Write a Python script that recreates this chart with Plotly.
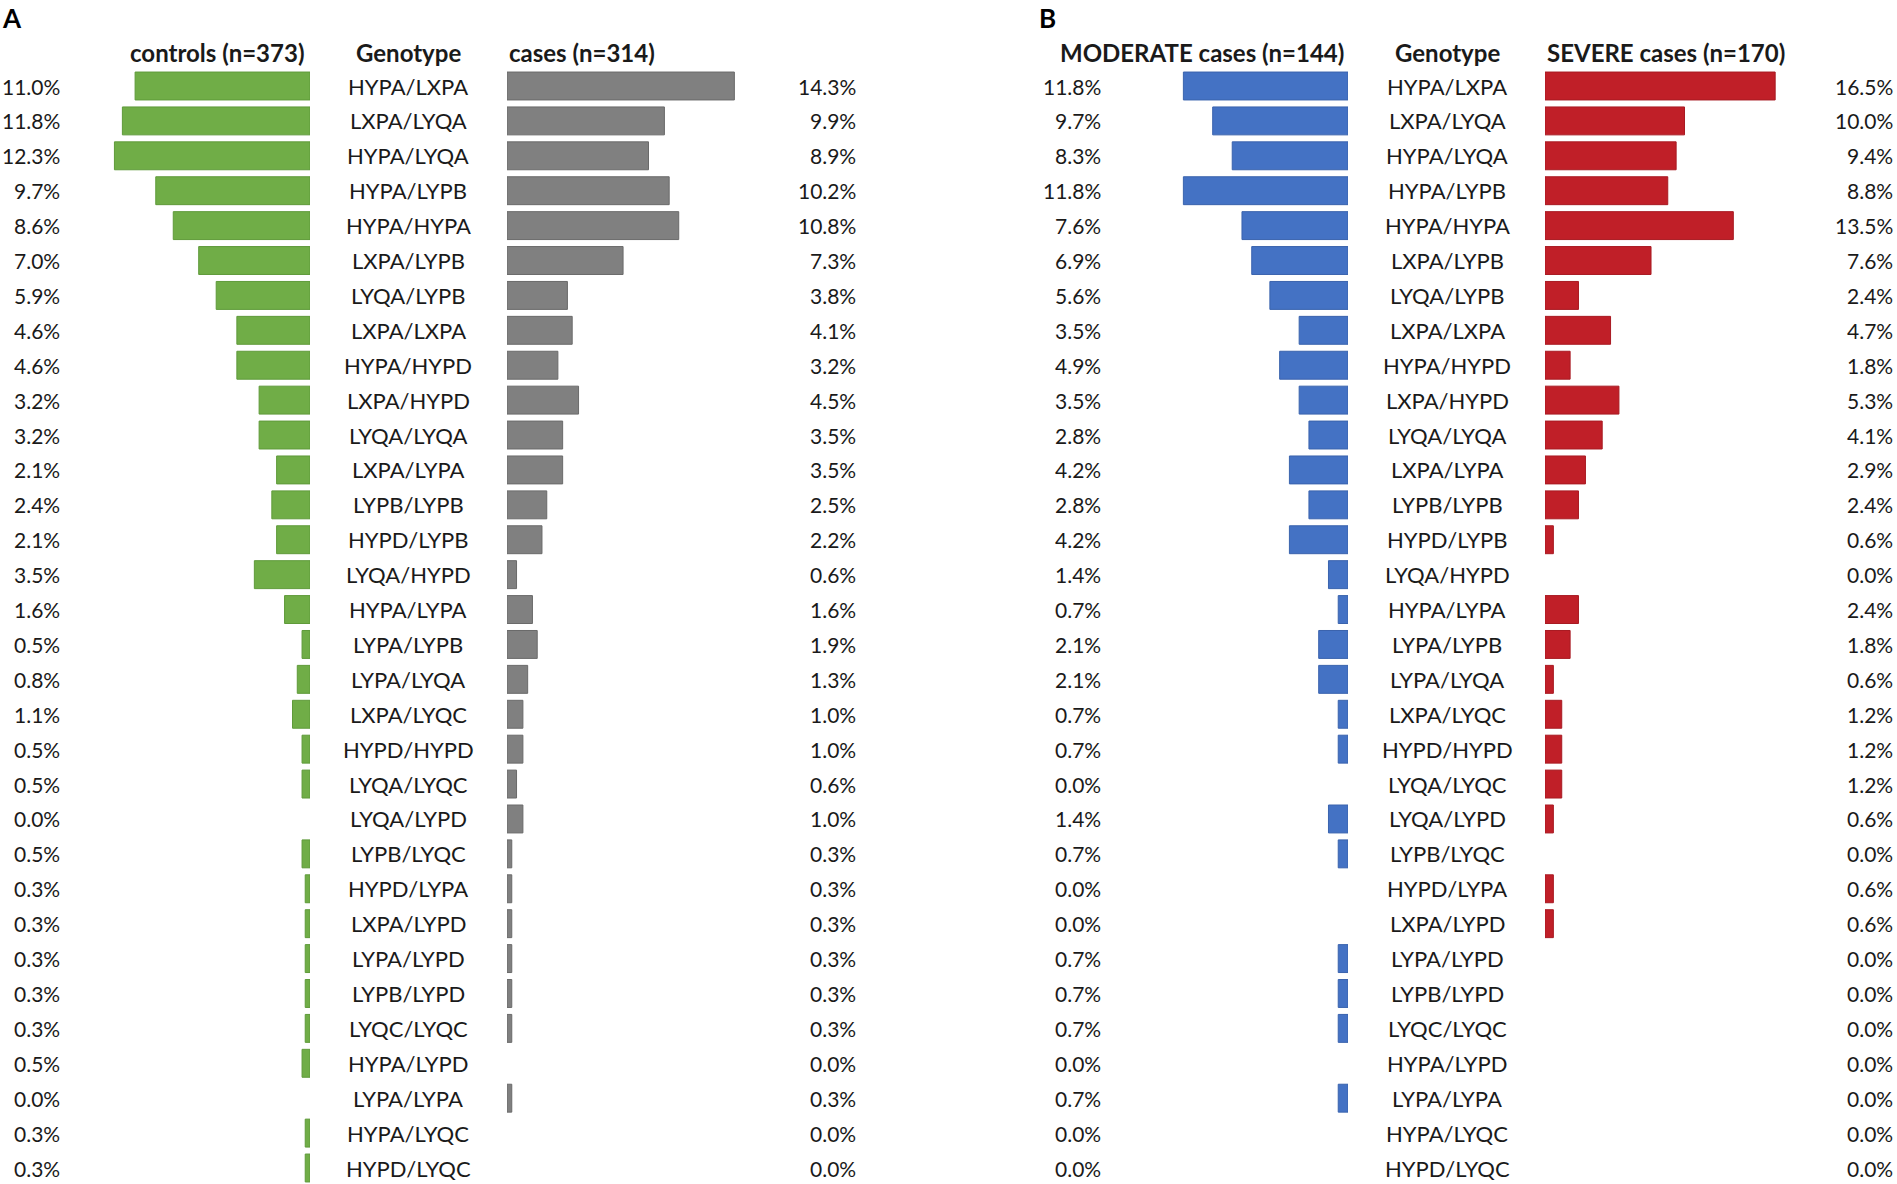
import plotly.graph_objects as go

genotypes = ["HYPA/LXPA", "LXPA/LYQA", "HYPA/LYQA", "HYPA/LYPB", "HYPA/HYPA", "LXPA/LYPB",
             "LYQA/LYPB", "LXPA/LXPA", "HYPA/HYPD", "LXPA/HYPD", "LYQA/LYQA", "LXPA/LYPA",
             "LYPB/LYPB", "HYPD/LYPB", "LYQA/HYPD", "HYPA/LYPA", "LYPA/LYPB", "LYPA/LYQA",
             "LXPA/LYQC", "HYPD/HYPD", "LYQA/LYQC", "LYQA/LYPD", "LYPB/LYQC", "HYPD/LYPA",
             "LXPA/LYPD", "LYPA/LYPD", "LYPB/LYPD", "LYQC/LYQC", "HYPA/LYPD", "LYPA/LYPA",
             "HYPA/LYQC", "HYPD/LYQC"]

controls = [11.0, 11.8, 12.3, 9.7, 8.6, 7.0, 5.9, 4.6, 4.6, 3.2, 3.2, 2.1, 2.4, 2.1, 3.5, 1.6,
            0.5, 0.8, 1.1, 0.5, 0.5, 0.0, 0.5, 0.3, 0.3, 0.3, 0.3, 0.3, 0.5, 0.0, 0.3, 0.3]
cases = [14.3, 9.9, 8.9, 10.2, 10.8, 7.3, 3.8, 4.1, 3.2, 4.5, 3.5, 3.5, 2.5, 2.2, 0.6, 1.6,
         1.9, 1.3, 1.0, 1.0, 0.6, 1.0, 0.3, 0.3, 0.3, 0.3, 0.3, 0.3, 0.0, 0.3, 0.0, 0.0]
moderate = [11.8, 9.7, 8.3, 11.8, 7.6, 6.9, 5.6, 3.5, 4.9, 3.5, 2.8, 4.2, 2.8, 4.2, 1.4, 0.7,
            2.1, 2.1, 0.7, 0.7, 0.0, 1.4, 0.7, 0.0, 0.0, 0.7, 0.7, 0.7, 0.0, 0.7, 0.0, 0.0]
severe = [16.5, 10.0, 9.4, 8.8, 13.5, 7.6, 2.4, 4.7, 1.8, 5.3, 4.1, 2.9, 2.4, 0.6, 0.0, 2.4,
          1.8, 0.6, 1.2, 1.2, 1.2, 0.6, 0.0, 0.6, 0.6, 0.0, 0.0, 0.0, 0.0, 0.0, 0.0, 0.0]

headers_a = ["controls (n=373)", "Genotype", "cases (n=314)"]
headers_b = ["MODERATE cases (n=144)", "Genotype", "SEVERE cases (n=170)"]

W, H = 1897, 1184
FONT = "Lato"
FS_PCT = 21
FS_GEN = 22
FS_HDR = 24
TXT = "#1a1a1a"

def px(x):
    return x / W

# pixel geometry
row0, rowN = 86, 1168
step = (rowN - row0) / (len(genotypes) - 1)
y_top = -row0 / step
y_bot = (len(genotypes) - 1) + (H - rowN) / step

scaleA = 15.9
scaleB = 13.95
gA_right, cA_left = 310, 507
bB_right, rB_left = 1348, 1545
xa1 = (0, gA_right)
xa2 = (cA_left, 880)
xa3 = (900, bB_right)
xa4 = (rB_left, W)

fig = go.Figure()

def bar(vals, color, line, xaxis):
    fig.add_trace(go.Bar(
        x=vals, y=genotypes, orientation="h", xaxis=xaxis, yaxis="y",
        marker=dict(color=color,
                    line=dict(color=line, width=[1 if v > 0 else 0 for v in vals])),
        showlegend=False, hoverinfo="x+y"))

bar(controls, "#70AD47", "#5f9a3a", "x")
bar(cases, "#808080", "#6a6a6a", "x2")
bar(moderate, "#4472C4", "#3a63ad", "x3")
bar(severe, "#C01F28", "#a81a22", "x4")

fig.update_layout(
    width=W, height=H, autosize=False,
    margin=dict(l=0, r=0, t=0, b=0),
    paper_bgcolor="white", plot_bgcolor="rgba(0,0,0,0)",
    bargap=0.2,
    font=dict(family=FONT, size=FS_PCT, color=TXT),
    xaxis=dict(domain=[px(xa1[0]), px(xa1[1])],
               range=[(xa1[1] - xa1[0]) / scaleA, 0], visible=False, fixedrange=True),
    xaxis2=dict(domain=[px(xa2[0]), px(xa2[1])], anchor="y",
                range=[0, (xa2[1] - xa2[0]) / scaleA], visible=False, fixedrange=True),
    xaxis3=dict(domain=[px(xa3[0]), px(xa3[1])], anchor="y",
                range=[(xa3[1] - xa3[0]) / scaleB, 0], visible=False, fixedrange=True),
    xaxis4=dict(domain=[px(xa4[0]), px(xa4[1])], anchor="y",
                range=[0, (xa4[1] - xa4[0]) / scaleB], visible=False, fixedrange=True),
    yaxis=dict(domain=[0, 1], type="category", categoryarray=genotypes,
               categoryorder="array", range=[y_bot, y_top], visible=False, fixedrange=True),
)

ann = []
def col_text(values, xpix, anchor, size, fmt=True):
    for g, v in zip(genotypes, values):
        ann.append(dict(x=px(xpix), xref="paper", y=g, yref="y",
                        text=(f"{v:.1f}%" if fmt else v), showarrow=False,
                        xanchor=anchor, yanchor="middle",
                        font=dict(family=FONT, size=size, color=TXT)))

col_text(controls, 62, "right", FS_PCT)
col_text(genotypes, 408, "center", FS_GEN, fmt=False)
col_text(cases, 858, "right", FS_PCT)
col_text(moderate, 1103, "right", FS_PCT)
col_text(genotypes, 1447, "center", FS_GEN, fmt=False)
col_text(severe, 1895, "right", FS_PCT)

hy = 1 - 53 / H
def header(text, xpix, anchor):
    ann.append(dict(x=px(xpix), xref="paper", y=hy, yref="paper", text=f"<b>{text}</b>",
                    showarrow=False, xanchor=anchor, yanchor="middle",
                    font=dict(family=FONT, size=FS_HDR, color=TXT)))

header(headers_a[0], 306, "right")
header(headers_a[1], 408, "center")
header(headers_a[2], 507, "left")
header(headers_b[0], 1346, "right")
header(headers_b[1], 1447, "center")
header(headers_b[2], 1545, "left")

for lab, xpix in (("A", 0), ("B", 1037)):
    ann.append(dict(x=px(xpix), xref="paper", y=1 - 18 / H, yref="paper",
                    text=f"<b>{lab}</b>", showarrow=False, xanchor="left", yanchor="middle",
                    font=dict(family=FONT, size=26, color="black")))

fig.update_layout(annotations=ann)

fig.write_html("out.html", config={"displayModeBar": False},
               post_script="document.body.style.margin='0';document.body.style.overflow='hidden';")
